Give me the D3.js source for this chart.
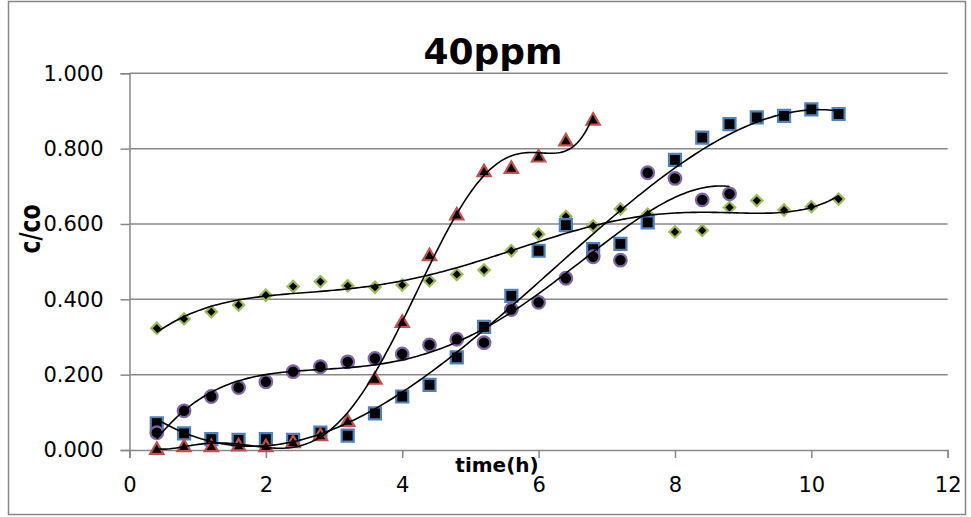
<!DOCTYPE html>
<html>
<head>
<meta charset="utf-8">
<script src="https://cdn.jsdelivr.net/npm/d3@7"></script>
<style>
  body { margin: 0; background: #fff; }
  text { font-family: "DejaVu Sans", sans-serif; }
</style>
</head>
<body>
<div id="chart"></div>
<script>
// data (time in h, c/co)
const times = [0.4, 0.8, 1.2, 1.6, 2.0, 2.4, 2.8, 3.2, 3.6, 4.0, 4.4, 4.8, 5.2,
               5.6, 6.0, 6.4, 6.8, 7.2, 7.6, 8.0, 8.4, 8.8, 9.2, 9.6, 10.0, 10.4];

const greenVals = [0.323, 0.348, 0.367, 0.385, 0.411, 0.434, 0.447, 0.436, 0.432, 0.438,
                   0.449, 0.466, 0.478, 0.529, 0.573, 0.620, 0.595, 0.640, 0.626, 0.579,
                   0.583, 0.644, 0.662, 0.637, 0.646, 0.666];
const blueVals  = [0.071, 0.044, 0.029, 0.027, 0.029, 0.027, 0.046, 0.038, 0.097, 0.142,
                   0.173, 0.246, 0.327, 0.409, 0.529, 0.597, 0.533, 0.547, 0.604, 0.770,
                   0.829, 0.865, 0.883, 0.887, 0.904, 0.892];
const redVals   = [0.004, 0.011, 0.011, 0.013, 0.011, 0.022, 0.040, 0.078, 0.190, 0.341,
                   0.518, 0.626, 0.741, 0.750, 0.780, 0.823, 0.878];
const purpleVals = [0.046, 0.104, 0.142, 0.166, 0.181, 0.208, 0.221, 0.234, 0.243, 0.255,
                    0.279, 0.294, 0.285, 0.373, 0.392, 0.456, 0.513, 0.504, 0.736, 0.721,
                    0.664, 0.680];

const xTicks = [0, 2, 4, 6, 8, 10, 12];
const yTicks = [0, 0.2, 0.4, 0.6, 0.8, 1.0];

const series = [
    { name: "green",  vals: greenVals,  color: "#9BBB59", shape: "diamond",  order: 6 },
    { name: "blue",   vals: blueVals,   color: "#4F81BD", shape: "square",   order: 4 },
    { name: "red",    vals: redVals,    color: "#C0504D", shape: "triangle", order: 6 },
    { name: "purple", vals: purpleVals, color: "#8064A2", shape: "circle",   order: 4 }
];

// least squares polynomial, x scaled to keep the matrix sane
function polyfit(xs, ys, order)
{
    const n = order + 1;
    const A = [];
    const b = [];
    for(let i = 0; i < n; i++) { A.push(new Array(n).fill(0)); b.push(0); }
    for(let k = 0; k < xs.length; k++)
    {
        const t = xs[k] / 10;
        for(let i = 0; i < n; i++)
        {
            for(let j = 0; j < n; j++) A[i][j] += Math.pow(t, i + j);
            b[i] += ys[k] * Math.pow(t, i);
        }
    }
    for(let c = 0; c < n; c++)
    {
        let p = c;
        for(let r = c + 1; r < n; r++) if(Math.abs(A[r][c]) > Math.abs(A[p][c])) p = r;
        [A[c], A[p]] = [A[p], A[c]];
        [b[c], b[p]] = [b[p], b[c]];
        for(let r = c + 1; r < n; r++)
        {
            const f = A[r][c] / A[c][c];
            for(let j = c; j < n; j++) A[r][j] -= f * A[c][j];
            b[r] -= f * b[c];
        }
    }
    const coef = new Array(n).fill(0);
    for(let r = n - 1; r >= 0; r--)
    {
        let s = b[r];
        for(let j = r + 1; j < n; j++) s -= A[r][j] * coef[j];
        coef[r] = s / A[r][r];
    }
    return x => coef.reduce((acc, c, i) => acc + c * Math.pow(x / 10, i), 0);
}

const width = 971, height = 517;

const svg = d3.select("#chart")
    .append("svg")
    .attr("width", width)
    .attr("height", height);

// chart border
svg.append("rect")
    .attr("x", 8.5).attr("y", 1.5)
    .attr("width", 957).attr("height", 513)
    .attr("fill", "none")
    .attr("stroke", "#868686")
    .attr("stroke-width", 1.5);

const xScale = d3.scaleLinear().domain([0, 12]).range([129.5, 947.7]);
const yScale = d3.scaleLinear().domain([0, 1]).range([450, 73.3]);

// gridlines
svg.append("g")
    .selectAll("line")
    .data(yTicks.slice(1))
    .join("line")
    .attr("x1", xScale(0)).attr("x2", xScale(12))
    .attr("y1", d => yScale(d)).attr("y2", d => yScale(d))
    .attr("stroke", "#888")
    .attr("stroke-width", 1.5);

// axes
const yAxis = svg.append("g")
    .attr("transform", `translate(${xScale(0)},0)`)
    .call(d3.axisLeft(yScale).tickValues(yTicks).tickFormat(d3.format(".3f")).tickSize(9).tickPadding(17));

const xAxis = svg.append("g")
    .attr("transform", `translate(0,${yScale(0)})`)
    .call(d3.axisBottom(xScale).tickValues(xTicks).tickFormat(d3.format("d")).tickSize(8).tickPadding(19));

for(const ax of [xAxis, yAxis])
{
    ax.select(".domain").attr("stroke", "#888").attr("stroke-width", 1.5);
    ax.selectAll(".tick line").attr("stroke", "#888").attr("stroke-width", 1.5);
    ax.selectAll(".tick text")
        .attr("fill", "#000")
        .style("font-family", "'DejaVu Sans', sans-serif")
        .style("font-size", "21px");
}

// markers
const symbolFor = {
    diamond:  d3.symbol().type(d3.symbolSquare).size(64),
    square:   d3.symbol().type(d3.symbolSquare).size(144),
    triangle: d3.symbol().type(d3.symbolTriangle).size(76),
    circle:   d3.symbol().type(d3.symbolCircle).size(125)
};

for(const s of series)
{
    svg.append("g")
        .selectAll("path")
        .data(s.vals.map((v, i) => ({ t: times[i], v: v })))
        .join("path")
        .attr("d", symbolFor[s.shape]())
        .attr("transform", d => `translate(${xScale(d.t)},${yScale(d.v)})` +
            (s.shape == "diamond" ? " rotate(45)" : "") +
            (s.shape == "triangle" ? " translate(0,1.5)" : ""))
        .attr("fill", "#000")
        .attr("stroke", s.color)
        .attr("stroke-width", 2.2);
}

// polynomial trendlines on top
const line = d3.line()
    .x(d => xScale(d[0]))
    .y(d => yScale(d[1]));

for(const s of series)
{
    const xs = times.slice(0, s.vals.length);
    const f = polyfit(xs, s.vals, s.order);
    const x0 = xs[0], x1 = xs[xs.length - 1];
    const pts = d3.range(0, 201).map(i => {
        const x = x0 + (x1 - x0) * i / 200;
        return [x, f(x)];
    });
    svg.append("path")
        .datum(pts)
        .attr("d", line)
        .attr("fill", "none")
        .attr("stroke", "#000")
        .attr("stroke-width", 1.6);
}

// titles
svg.append("text")
    .attr("x", 493).attr("y", 64)
    .attr("text-anchor", "middle")
    .style("font-weight", "bold")
    .style("font-size", "36px")
    .text("40ppm");

svg.append("text")
    .attr("x", 497).attr("y", 472)
    .attr("text-anchor", "middle")
    .style("font-weight", "bold")
    .style("font-size", "20px")
    .text("time(h)");

svg.append("text")
    .attr("transform", "translate(40,229) scale(1.3,1) rotate(-90)")
    .attr("text-anchor", "middle")
    .style("font-weight", "bold")
    .style("font-size", "22px")
    .text("c/co");
</script>
</body>
</html>
